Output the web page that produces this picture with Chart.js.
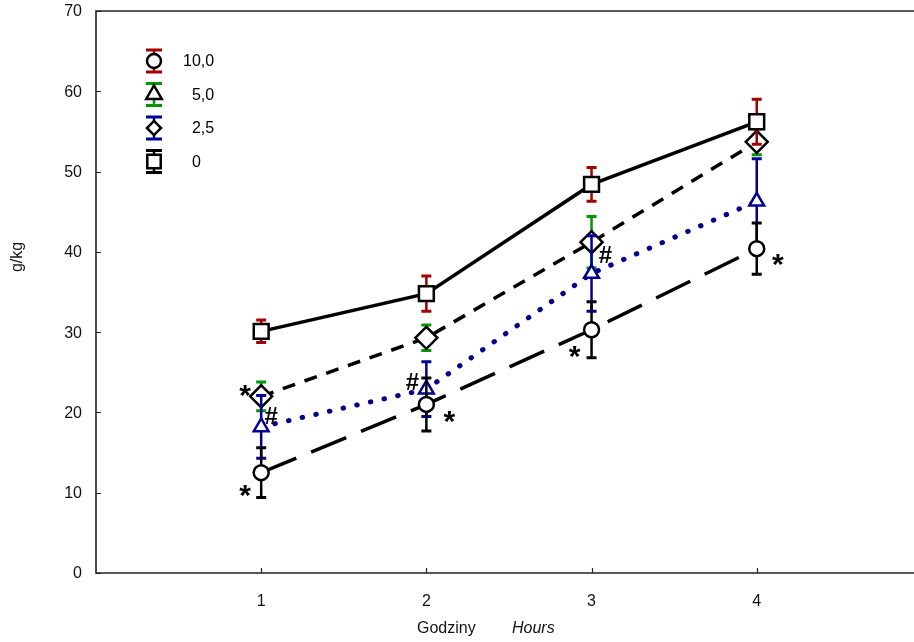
<!DOCTYPE html>
<html>
<head>
<meta charset="utf-8">
<script src="https://cdn.jsdelivr.net/npm/chart.js@4.4.1/dist/chart.umd.min.js"></script>
<style>
  html, body { margin: 0; padding: 0; background: #fff; }
  canvas { display: block; }
</style>
</head>
<body>
<canvas id="c" width="914" height="642" style="width:914px;height:642px"></canvas>
<script>
// godziny (oś x)
const hours = [1, 2, 3, 4];
const yTicks = [0, 10, 20, 30, 40, 50, 60, 70];

// średnie g/kg dla każdej dawki
const mean0 = [30.1, 34.8, 48.4, 56.2];
const mean10 = [12.5, 21.0, 30.3, 40.4];
const mean5 = [18.2, 22.9, 37.3, 46.3];
const mean25 = [22.0, 29.3, 41.2, 53.7];

// błędy (+/-)
const err0 = [1.4, 2.2, 2.1, 2.8];
const err10 = [3.1, 3.3, 3.5, 3.2];
const err5 = [3.9, 3.4, 4.7, 5.3];
const err25 = [1.8, 1.6, 3.2, 1.6];

// legenda
const legendLabels = ['10,0', '  5,0', '  2,5', '  0'];

// oznaczenia istotności: [seria, punkt, znak]
const marks = [
    [3, 0, '*'], [2, 0, '#'], [1, 0, '*'],
    [2, 1, '#'], [1, 1, '*'],
    [3, 2, '#'], [1, 2, '*'],
    [1, 3, '*']
];
// przesunięcia znaków względem punktu (px)
const markOffsets = [
    [-16, -8], [10, -10], [-16, 16],
    [-14, -6], [23, 10],
    [14, 14], [-17, 20],
    [21, 9]
];

const FONT = '"Liberation Sans", Arial, sans-serif';
const RED = 'rgb(165,0,0)';
const GREEN = 'rgb(0,150,0)';
const BLUE = 'rgb(0,0,150)';
const NAVY = 'rgb(0,0,140)';

function pts(values) {
    return hours.map((h, i) => ({ x: h, y: values[i] }));
}

/**
 * rysuje znacznik (własna wersja, żeby legenda wyglądała tak samo)
 */
function drawMarker(ctx, style, x, y, r, stroke) {
    ctx.save();
    ctx.fillStyle = '#fff';
    ctx.strokeStyle = stroke;
    ctx.lineWidth = 2.5;
    ctx.beginPath();
    if (style === 'circle') {
        ctx.arc(x, y, r, 0, Math.PI * 2);
    } else if (style === 'triangle') {
        ctx.moveTo(x, y - r);
        ctx.lineTo(x + r * 0.866, y + r * 0.5);
        ctx.lineTo(x - r * 0.866, y + r * 0.5);
        ctx.closePath();
    } else if (style === 'rectRot') {
        const s = r * Math.SQRT1_2;
        ctx.moveTo(x - s, y);
        ctx.lineTo(x, y + s);
        ctx.lineTo(x + s, y);
        ctx.lineTo(x, y - s);
        ctx.closePath();
    } else {
        const s = r * Math.SQRT1_2;
        ctx.rect(x - s, y - s, 2 * s, 2 * s);
    }
    ctx.fill();
    ctx.stroke();
    ctx.restore();
}

function drawBar(ctx, x, yTop, yBottom, color, cap) {
    ctx.save();
    ctx.strokeStyle = color;
    ctx.lineWidth = 2.5;
    ctx.beginPath();
    ctx.moveTo(x, yTop);
    ctx.lineTo(x, yBottom);
    ctx.stroke();
    ctx.lineWidth = 3;
    ctx.beginPath();
    ctx.moveTo(x - cap, yTop);
    ctx.lineTo(x + cap, yTop);
    ctx.moveTo(x - cap, yBottom);
    ctx.lineTo(x + cap, yBottom);
    ctx.stroke();
    ctx.restore();
}

const extras = {
    id: 'extras',
    // słupki błędów pod własną serią
    beforeDatasetDraw(chart, args) {
        const ds = chart.data.datasets[args.index];
        const { ctx, scales: { x, y } } = chart;
        ds.data.forEach((p, i) => {
            const px = x.getPixelForValue(p.x);
            drawBar(ctx, px, y.getPixelForValue(p.y + ds.err[i]), y.getPixelForValue(p.y - ds.err[i]), ds.barColor, 5);
        });
    },
    afterDraw(chart) {
        const { ctx, chartArea: a, scales: { x, y } } = chart;
        const W = chart.width;
        ctx.save();
        // ramka (prawa krawędź ucięta)
        ctx.strokeStyle = '#222';
        ctx.lineWidth = 1.6;
        ctx.beginPath();
        ctx.moveTo(W, a.top);
        ctx.lineTo(a.left, a.top);
        ctx.lineTo(a.left, a.bottom);
        ctx.lineTo(W, a.bottom);
        ctx.stroke();
        // krótkie kreski do środka
        ctx.beginPath();
        yTicks.forEach(v => {
            const py = Math.round(y.getPixelForValue(v)) + 0.5;
            ctx.moveTo(a.left, py);
            ctx.lineTo(a.left + 5, py);
        });
        hours.forEach(v => {
            const px = Math.round(x.getPixelForValue(v)) + 0.5;
            ctx.moveTo(px, a.bottom);
            ctx.lineTo(px, a.bottom - 5);
        });
        ctx.lineWidth = 1.2;
        ctx.stroke();

        // etykiety osi
        ctx.fillStyle = '#111';
        ctx.font = '16px ' + FONT;
        ctx.textBaseline = 'middle';
        ctx.textAlign = 'right';
        yTicks.forEach(v => ctx.fillText(String(v), a.left - 14, y.getPixelForValue(v) + 1));
        ctx.textAlign = 'center';
        hours.forEach(v => ctx.fillText(String(v), x.getPixelForValue(v), a.bottom + 29));

        // tytuły osi
        ctx.textAlign = 'left';
        ctx.fillText('Godziny', 417, 629);
        ctx.font = 'italic 16px ' + FONT;
        ctx.fillText('Hours', 512, 629);
        ctx.save();
        ctx.translate(18, 257);
        ctx.rotate(-Math.PI / 2);
        ctx.textAlign = 'center';
        ctx.font = '16px ' + FONT;
        ctx.fillText('g/kg', 0, 0);
        ctx.restore();

        // legenda
        const legendColors = [RED, GREEN, BLUE, '#000'];
        const legendShapes = ['circle', 'triangle', 'rectRot', 'rect'];
        const legendSizes = [7, 9, 10, 9.5];
        legendLabels.forEach((lab, i) => {
            const cy = 61 + i * 33.5;
            drawBar(ctx, 154, cy - 11, cy + 11, legendColors[i], 8);
            drawMarker(ctx, legendShapes[i], 154, cy, legendSizes[i], '#000');
            ctx.fillStyle = '#000';
            ctx.font = '16px ' + FONT;
            ctx.textAlign = 'left';
            ctx.textBaseline = 'middle';
            ctx.fillText(lab, 183, cy + 1);
        });

        // * i #
        ctx.textAlign = 'center';
        marks.forEach((m, k) => {
            const el = chart.getDatasetMeta(m[0]).data[m[1]];
            const dx = markOffsets[k][0], dy = markOffsets[k][1];
            const star = m[2] === '*';
            ctx.font = (star ? 'bold 30px ' : 'bold 24px ') + FONT;
            ctx.fillText(m[2], el.x + dx, el.y + dy + (star ? 8 : 0));
        });
        ctx.restore();
    }
};

new Chart(document.getElementById('c'), {
    type: 'line',
    data: {
        datasets: [
            {
                label: '0', data: pts(mean0), err: err0, barColor: RED,
                borderColor: '#000', borderWidth: 3.5,
                pointStyle: 'rect', pointRadius: 10.5, pointBorderWidth: 2.5,
                pointBackgroundColor: '#fff', pointBorderColor: '#000'
            },
            {
                label: '10,0', data: pts(mean10), err: err10, barColor: '#000',
                borderColor: '#000', borderWidth: 3.5, borderDash: [38, 16],
                pointStyle: 'circle', pointRadius: 7.5, pointBorderWidth: 2.5,
                pointBackgroundColor: '#fff', pointBorderColor: '#000'
            },
            {
                label: '5,0', data: pts(mean5), err: err5, barColor: BLUE,
                borderColor: NAVY, borderWidth: 5, borderDash: [0.5, 13.5], borderCapStyle: 'round',
                pointStyle: 'triangle', pointRadius: 8.5, pointBorderWidth: 2.5,
                pointBackgroundColor: '#fff', pointBorderColor: BLUE
            },
            {
                label: '2,5', data: pts(mean25), err: err25, barColor: GREEN,
                borderColor: '#000', borderWidth: 3.5, borderDash: [13, 10],
                pointStyle: 'rectRot', pointRadius: 11, pointBorderWidth: 2.5,
                pointBackgroundColor: '#fff', pointBorderColor: '#000'
            }
        ]
    },
    options: {
        responsive: false,
        animation: false,
        layout: { autoPadding: false, padding: { top: 11, right: 2, left: 0, bottom: 0 } },
        plugins: { legend: { display: false }, tooltip: { enabled: false } },
        elements: { line: { tension: 0 } },
        scales: {
            x: {
                type: 'linear', min: 0, max: 4.94,
                afterFit: s => { s.height = 69; },
                grid: { display: false },
                border: { display: false },
                ticks: { display: false }
            },
            y: {
                min: 0, max: 70,
                afterFit: s => { s.width = 96; },
                grid: { display: false },
                border: { display: false },
                ticks: { display: false }
            }
        }
    },
    plugins: [extras]
});
</script>
</body>
</html>
